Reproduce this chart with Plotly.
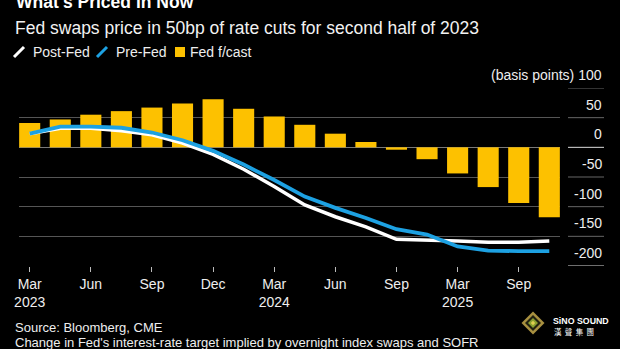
import plotly.graph_objects as go

# ---- data ----
periods = list(range(18))  # successive policy meetings
fed_fcast = [41, 47, 55, 61, 67, 74, 81, 65, 52, 38, 23, 9, -4, -20, -44, -67, -94, -118]
post_fed = [23, 32, 32, 28, 21, 7, -12, -37, -66, -97, -117, -134, -155, -156, -158, -160, -160, -158]
pre_fed = [23, 35, 35, 33, 25, 12, -6, -29, -55, -83, -102, -119, -138, -147, -167, -174, -175, -175]
tick_pos = [0, 2, 4, 6, 8, 10, 12, 14, 16]
tick_text = ["Mar<br>2023", "Jun", "Sep", "Dec", "Mar<br>2024", "Jun", "Sep", "Mar<br>2025", "Sep"]
y_ticks = [100, 50, 0, -50, -100, -150, -200]
y_tick_text = ["(basis points) 100", "50", "0", "-50", "-100", "-150", "-200"]

W, H = 620, 349
L, R, T, B = 19, 60, 88, 83
PW, PH = W - L - R, H - T - B
FONT = "Liberation Sans, Arial, sans-serif"
YELLOW = "#FDC100"
BLUE = "#1DA1E2"


def px(x):
    return (x - L) / PW


def py(y):
    return (H - B - y) / PH


fig = go.Figure()
fig.add_trace(go.Bar(x=periods, y=fed_fcast, marker_color=YELLOW, marker_line_width=0,
                     width=0.69, name="Fed f/cast"))
fig.add_trace(go.Scatter(x=periods, y=post_fed, mode="lines", line=dict(color="#FFFFFF", width=3.5),
                         name="Post-Fed"))
fig.add_trace(go.Scatter(x=periods, y=pre_fed, mode="lines", line=dict(color=BLUE, width=3.8),
                         name="Pre-Fed"))

fig.update_layout(
    width=W, height=H, margin=dict(l=L, r=R, t=T, b=B),
    paper_bgcolor="#000000", plot_bgcolor="#000000",
    showlegend=False, font=dict(family=FONT, color="#EEEEEE", size=14),
    xaxis=dict(range=[-0.35, 17.35], tickvals=tick_pos, ticktext=tick_text,
               ticks="outside", ticklen=5, tickcolor="#BBBBBB", tickwidth=1,
               showgrid=False, zeroline=False, showline=False,
               tickfont=dict(size=14, color="#EEEEEE")),
    yaxis=dict(range=[-200, 100], tickvals=[100, 50, 0, -50, -100, -150],
               showticklabels=False, showgrid=True, gridcolor="#555555", gridwidth=1,
               zeroline=True, zerolinecolor="#7A7A7A", zerolinewidth=1, showline=False),
)

ann = []
shapes = []
# y labels and right-hand strip lines
for v, t in zip(y_ticks, y_tick_text):
    ann.append(dict(text=t, x=px(604), xref="paper", y=v, yref="y", xanchor="right",
                    yanchor="middle", yshift=13, showarrow=False,
                    font=dict(size=14, color="#EEEEEE")))
    col = "#DDDDDD" if v in (0, -200) else "#666666"
    shapes.append(dict(type="line", xref="paper", yref="y", x0=px(568), x1=px(604),
                       y0=v, y1=v, line=dict(color=col, width=1)))

# titles
ann.append(dict(text="<b>What's Priced in Now</b>", x=px(14), xref="paper", y=py(1.5), yref="paper",
                xanchor="left", yanchor="middle", showarrow=False,
                font=dict(size=17.5, color="#FFFFFF")))
ann.append(dict(text="Fed swaps price in 50bp of rate cuts for second half of 2023", x=px(13),
                xref="paper", y=py(27.5), yref="paper", xanchor="left", yanchor="middle",
                showarrow=False, font=dict(size=17.5, color="#F2F2F2")))

# legend
legend_items = [("Post-Fed", 31, "#FFFFFF", "slash", 14), ("Pre-Fed", 114, BLUE, "slash", 97),
                ("Fed f/cast", 188, YELLOW, "square", 175)]
for name, tx, col, kind, ix in legend_items:
    ann.append(dict(text=name, x=px(tx), xref="paper", y=py(51.8), yref="paper",
                    xanchor="left", yanchor="middle", showarrow=False,
                    font=dict(size=14, color="#EEEEEE")))
    if kind == "slash":
        shapes.append(dict(type="line", xref="paper", yref="paper", x0=px(ix), y0=py(57),
                           x1=px(ix + 10), y1=py(47), line=dict(color=col, width=3)))
    else:
        shapes.append(dict(type="rect", xref="paper", yref="paper", x0=px(ix), y0=py(57),
                           x1=px(ix + 10), y1=py(47), fillcolor=col, line=dict(width=0)))

# footnotes
ann.append(dict(text="Source: Bloomberg, CME", x=px(13), xref="paper", y=py(327.5), yref="paper",
                xanchor="left", yanchor="middle", showarrow=False,
                font=dict(size=13, color="#EEEEEE")))
ann.append(dict(text="Change in Fed's interest-rate target implied by overnight index swaps and SOFR",
                x=px(13), xref="paper", y=py(342.3), yref="paper", xanchor="left",
                yanchor="middle", showarrow=False, font=dict(size=13, color="#EEEEEE")))

# logo
def diamond(cx, cy, r, fill):
    p = f"M {px(cx)} {py(cy - r)} L {px(cx + r)} {py(cy)} L {px(cx)} {py(cy + r)} L {px(cx - r)} {py(cy)} Z"
    return dict(type="path", xref="paper", yref="paper", path=p, fillcolor=fill, line=dict(width=0))


shapes += [diamond(533, 323, 11.5, "#A89040"), diamond(533, 323, 8, "#222210"),
           diamond(533, 323, 5, "#8AA030"), diamond(533, 323, 2.2, "#E0D050")]
ann.append(dict(text="<b>SiNO SOUND</b>", x=px(551), xref="paper", y=py(321), yref="paper",
                xanchor="left", yanchor="middle", showarrow=False,
                font=dict(size=8.8, color="#FFFFFF", family="Liberation Sans, Arial, sans-serif")))
ann.append(dict(text="漢\u00a0\u00a0聲\u00a0\u00a0集\u00a0\u00a0團", x=px(552), xref="paper",
                y=py(331.5), yref="paper", xanchor="left", yanchor="middle", showarrow=False,
                font=dict(size=7.5, color="#FFFFFF", family="Noto Sans CJK TC")))

fig.update_layout(annotations=ann, shapes=shapes)
fig.write_html("out.html")
